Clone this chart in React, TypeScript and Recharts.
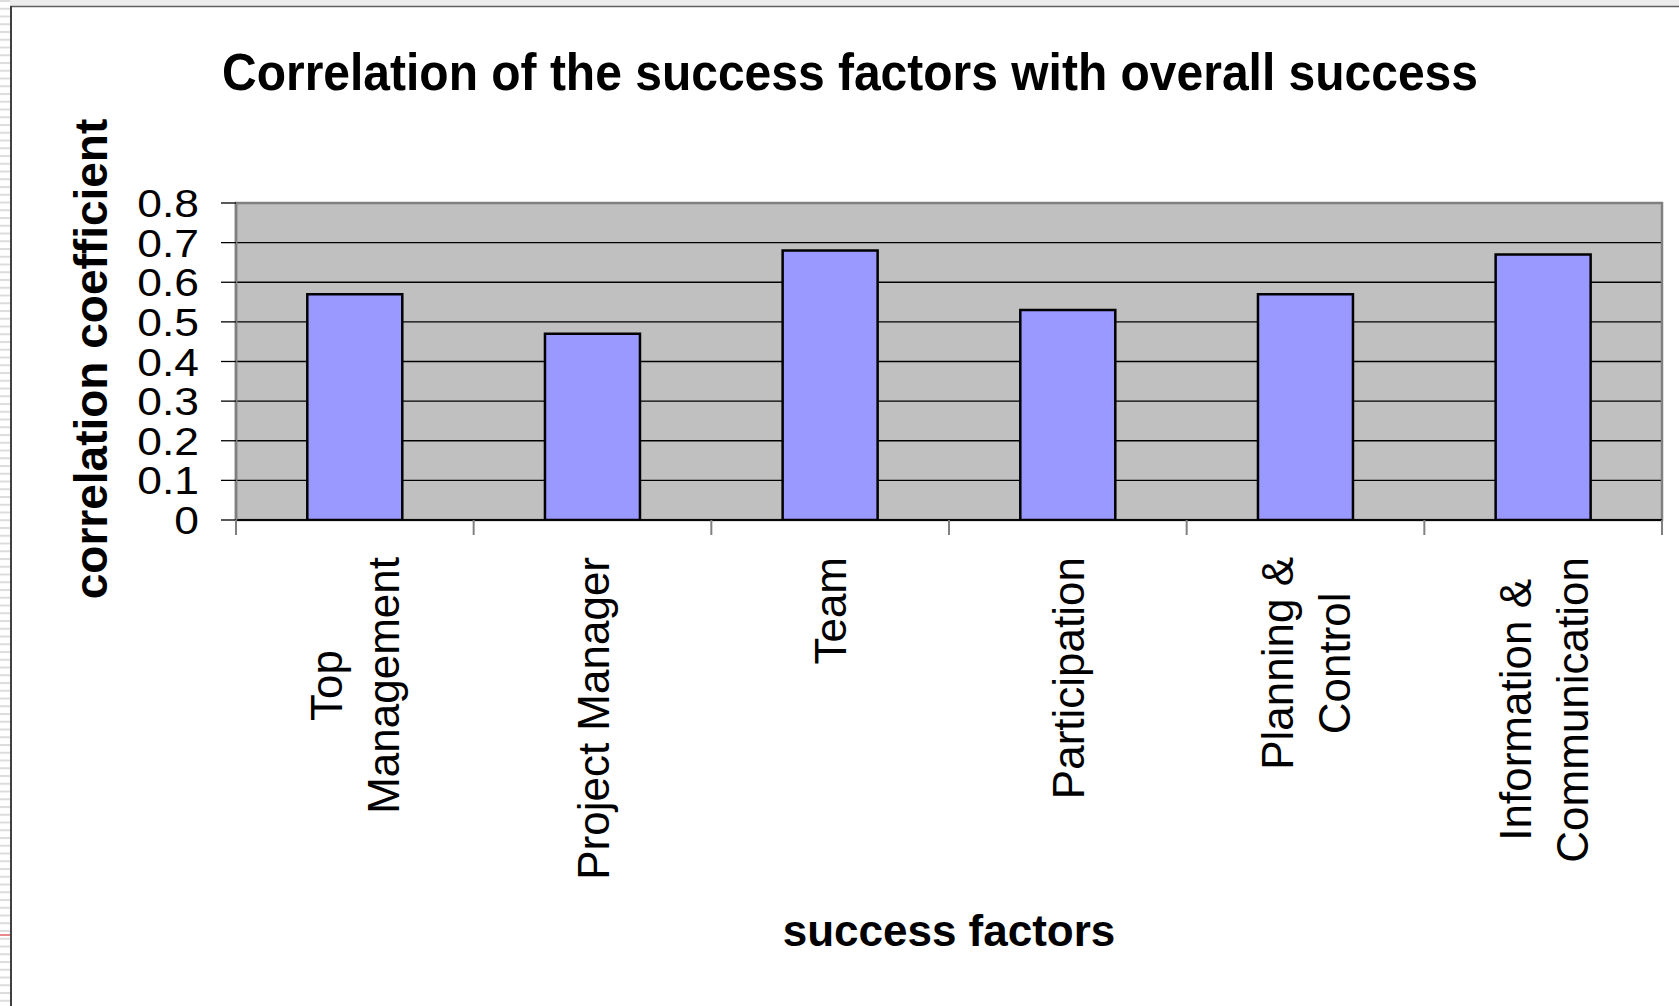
import React from 'react';
import { BarChart, Bar, XAxis, YAxis, CartesianGrid, ReferenceArea, ReferenceLine } from 'recharts';

const categories = [
  'Top\nManagement',
  'Project Manager',
  'Team',
  'Participation',
  'Planning &\nControl',
  'Information &\nCommunication',
];
const correlations = [0.57, 0.47, 0.68, 0.53, 0.57, 0.67];
const yTicks = [0, 0.1, 0.2, 0.3, 0.4, 0.5, 0.6, 0.7, 0.8];
const gridValues = [0.1, 0.2, 0.3, 0.4, 0.5, 0.6, 0.7];

const chartTitle = 'Correlation of the success factors with overall success';
const yTitle = 'correlation coefficient';
const xTitle = 'success factors';

const data = categories.map((name, i) => ({ name, value: correlations[i] }));

const W = 1679;
const H = 1006;
const FONT = "'Liberation Sans', Arial, Helvetica, sans-serif";
const MARGIN = { top: 203, right: 17, bottom: 0, left: 0 };
const Y_AXIS_W = 236;
const X_AXIS_H = 486;
const BAND_HALF = (W - MARGIN.right - Y_AXIS_W) / categories.length / 2;

let ctx: CanvasRenderingContext2D | null = null;
function measure(text: string, font: string): number {
  if (!ctx) ctx = document.createElement('canvas').getContext('2d');
  if (!ctx) return text.length * 20;
  ctx.font = font;
  return ctx.measureText(text).width;
}

const XTick = (props: any) => {
  const { x, y, payload, index } = props;
  const half = payload && typeof payload.offset === 'number' && payload.offset > 0 ? payload.offset : BAND_HALF;
  const fs = 44;
  const lines = String(payload.value).split('\n');
  const widths = lines.map((l) => measure(l, `${fs}px ${FONT}`));
  const maxW = Math.max(...widths);
  const n = lines.length;
  return (
    <g>
      <line x1={x - half} x2={x - half} y1={y} y2={y + 15} stroke="#808080" strokeWidth={2} />
      {index === categories.length - 1 && (
        <line x1={x + half} x2={x + half} y1={y} y2={y + 15} stroke="#808080" strokeWidth={2} />
      )}
      <g transform={`translate(${x},${y + 37})`}>
        <text transform="rotate(-90)" textAnchor="middle" fontSize={fs} fontFamily={FONT} fill="#000">
          {lines.map((l, i) => (
            <tspan key={i} x={-maxW / 2} y={16 + (i - (n - 1) / 2) * 57}>
              {l}
            </tspan>
          ))}
        </text>
      </g>
    </g>
  );
};

const YTick = (props: any) => {
  const { x, y, payload } = props;
  return (
    <text
      transform={`translate(${x},${y + 14}) scale(1.2,1.07)`}
      textAnchor="end"
      fontSize={37}
      fontFamily={FONT}
      fill="#000"
    >
      {String(payload.value)}
    </text>
  );
};

export default function App() {
  return (
    <div style={{ position: 'relative', width: W, height: H, overflow: 'hidden', background: '#fff' }}>
      <style>{`html,body{margin:0;padding:0;overflow:hidden;background:#fff}`}</style>
      <svg width={W} height={H} style={{ position: 'absolute', left: 0, top: 0 }}>
        <defs>
          <pattern id="stripes" patternUnits="userSpaceOnUse" width={10} height={7.75}>
            <rect x={0} y={0} width={10} height={7.75} fill="#ffffff" />
            <rect x={0} y={0} width={10} height={2} fill="#dcdcdc" />
          </pattern>
        </defs>
        <rect x={0} y={0} width={W} height={H} fill="#ffffff" />
        <rect x={0} y={0} width={W} height={6} fill="#ececec" />
        <rect x={0} y={0} width={10} height={H} fill="url(#stripes)" />
        <line x1={0} x2={10} y1={935} y2={935} stroke="#e06060" strokeWidth={1.5} />
        <line x1={10} x2={W} y1={6.5} y2={6.5} stroke="#606060" strokeWidth={1.3} />
        <line x1={11} x2={11} y1={6} y2={H} stroke="#404040" strokeWidth={2} />
        <text
          transform="translate(850,90) scale(1,1.09)"
          textAnchor="middle"
          fontSize={48}
          fontWeight="bold"
          fontFamily={FONT}
          fill="#000"
        >
          {chartTitle}
        </text>
        <text
          transform="translate(107,359) rotate(-90)"
          textAnchor="middle"
          fontSize={46}
          fontWeight="bold"
          fontFamily={FONT}
          fill="#000"
        >
          {yTitle}
        </text>
        <text x={949} y={946} textAnchor="middle" fontSize={44} fontWeight="bold" fontFamily={FONT} fill="#000">
          {xTitle}
        </text>
      </svg>
      <div style={{ position: 'absolute', left: 0, top: 0 }}>
        <BarChart width={W} height={H} data={data} margin={MARGIN} barCategoryGap="30%">
          <CartesianGrid
            vertical={false}
            horizontalValues={gridValues}
            stroke="#000"
            strokeWidth={1.3}
            fill="#C0C0C0"
            fillOpacity={1}
          />
          <ReferenceArea
            y1={0}
            y2={0.8}
            fill="none"
            fillOpacity={0}
            stroke="#808080"
            strokeWidth={2.5}
            ifOverflow="visible"
          />
          <XAxis
            dataKey="name"
            height={X_AXIS_H}
            interval={0}
            tickSize={0}
            tickMargin={0}
            tickLine={false}
            axisLine={{ stroke: '#000', strokeWidth: 1.5 }}
            tick={<XTick />}
          />
          <YAxis
            width={Y_AXIS_W}
            domain={[0, 0.8]}
            ticks={yTicks}
            interval={0}
            tickSize={15}
            tickMargin={22}
            tickLine={{ stroke: '#000', strokeWidth: 1.3 }}
            axisLine={{ stroke: '#808080', strokeWidth: 2.5 }}
            tick={<YTick />}
            allowDataOverflow
          />
          <Bar
            dataKey="value"
            fill="#9999FF"
            stroke="#000"
            strokeWidth={2.5}
            isAnimationActive={false}
          />
          <ReferenceLine y={0} stroke="#000" strokeWidth={1.5} ifOverflow="visible" />
        </BarChart>
      </div>
    </div>
  );
}
